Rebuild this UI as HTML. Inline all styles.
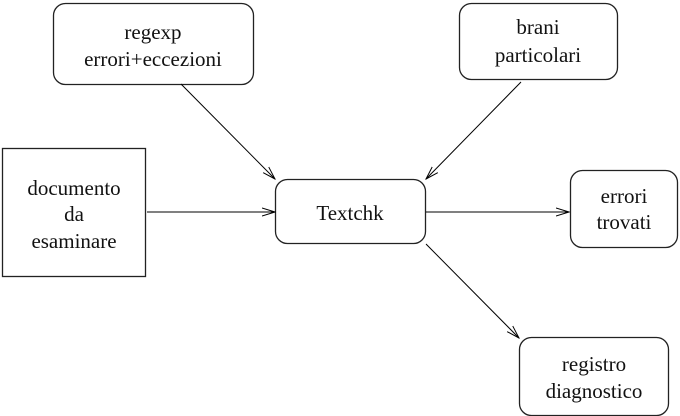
<!DOCTYPE html>
<html><head><style>body{margin:0;background:#fff}svg{display:block}</style></head><body>
<svg width="680" height="416" viewBox="0 0 680 416" xmlns="http://www.w3.org/2000/svg">
<defs><marker id="a" markerWidth="14" markerHeight="10" refX="13" refY="5" orient="auto" markerUnits="userSpaceOnUse"><path d="M0,1 L13,5 L0,9" fill="none" stroke="#000" stroke-width="1"/></marker></defs>
<g fill="none" stroke="#222" stroke-width="1.3">
<rect x="53.5" y="3.5" width="200" height="81" rx="12"/>
<rect x="459.5" y="3.5" width="158" height="76" rx="12"/>
<rect x="2.5" y="148.5" width="143" height="128"/>
<rect x="275.5" y="179.5" width="150" height="64" rx="12"/>
<rect x="570.5" y="170.5" width="107" height="77" rx="12"/>
<rect x="519.5" y="337.5" width="149" height="78" rx="12"/>
</g>
<g stroke="#000" stroke-width="1" marker-end="url(#a)">
<line x1="181" y1="84" x2="275" y2="179"/>
<line x1="521" y1="82" x2="426" y2="179"/>
<line x1="147" y1="212" x2="275" y2="212"/>
<line x1="426" y1="212" x2="569" y2="212"/>
<line x1="426" y1="244" x2="519" y2="338"/>
</g>
<g font-family="Liberation Serif, serif" font-size="21" text-anchor="middle" fill="#111">
<text x="153" y="39">regexp</text><text x="153" y="66">errori+eccezioni</text>
<text x="538" y="34">brani</text><text x="538" y="62">particolari</text>
<text x="74" y="195">documento</text><text x="74" y="221">da</text><text x="74" y="248">esaminare</text>
<text x="350" y="220">Textchk</text>
<text x="624" y="203">errori</text><text x="624" y="229">trovati</text>
<text x="594" y="371">registro</text><text x="594" y="398">diagnostico</text>
</g>
</svg>
</body></html>
